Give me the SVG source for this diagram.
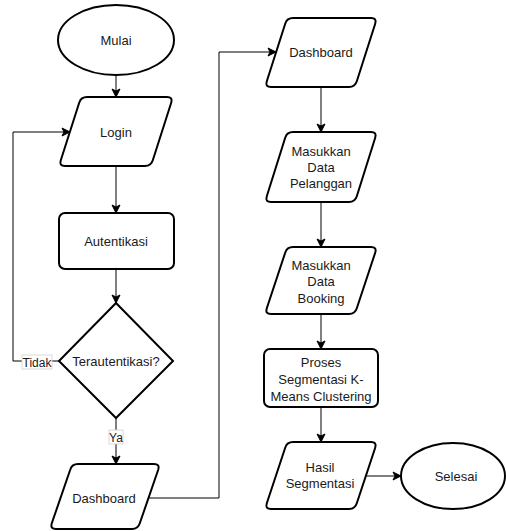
<svg xmlns="http://www.w3.org/2000/svg" width="506" height="531" viewBox="0 0 506 531">
<defs>
<marker id="arr" markerWidth="10" markerHeight="10" refX="9" refY="5" orient="auto" markerUnits="userSpaceOnUse">
<path d="M1,1 L9,5 L1,9 L3,5 Z" fill="#000" stroke="#000" stroke-width="1"/>
</marker>
<style>
.s{fill:#fff;stroke:#000;stroke-width:2}
.t{font-family:"Liberation Sans",Arial,Helvetica,sans-serif;font-size:13px;fill:#1a1a1a;text-anchor:middle}
.l{font-family:"Liberation Sans",Arial,Helvetica,sans-serif;font-size:12px;fill:#1a1a1a;text-anchor:middle}
.c{fill:none;stroke:#000;stroke-width:1}
.lb{fill:#fff;stroke:#d0d0d0;stroke-width:0.8}
</style>
</defs>
<rect width="506" height="531" fill="#fff"/>
<g id="connectors">
<line class="c" x1="116" y1="75" x2="116" y2="97" marker-end="url(#arr)"/>
<line class="c" x1="116" y1="166" x2="116" y2="213" marker-end="url(#arr)"/>
<line class="c" x1="116" y1="269" x2="116" y2="303" marker-end="url(#arr)"/>
<polyline class="c" points="59,361 13,361 13,132 70,132" marker-end="url(#arr)"/>
<line class="c" x1="116" y1="418" x2="116" y2="464" marker-end="url(#arr)"/>
<polyline class="c" points="149,498 219,498 219,52 276,52" marker-end="url(#arr)"/>
<line class="c" x1="321" y1="87" x2="321" y2="132" marker-end="url(#arr)"/>
<line class="c" x1="321" y1="202" x2="321" y2="247" marker-end="url(#arr)"/>
<line class="c" x1="321" y1="314" x2="321" y2="349" marker-end="url(#arr)"/>
<line class="c" x1="321" y1="407" x2="321" y2="442" marker-end="url(#arr)"/>
<line class="c" x1="366" y1="476" x2="401" y2="476" marker-end="url(#arr)"/>
<rect class="lb" x="22" y="355" width="30" height="14"/>
<text class="l" x="37" y="366.5">Tidak</text>
<rect class="lb" x="109" y="430" width="14" height="14"/>
<text class="l" x="116" y="441.5">Ya</text>
</g>
<g id="mulai">
<ellipse class="s" cx="116" cy="40" rx="58" ry="35"/>
<text class="t" x="116" y="44.5">Mulai</text>
</g>
<g id="login">
<path class="s" d="M87,97 L167,97 Q173,97 171.2,102.7 L152.8,160.3 Q151,166 145,166 L65,166 Q59,166 60.8,160.3 L79.2,102.7 Q81,97 87,97 Z"/>
<text class="t" x="116" y="136.5">Login</text>
</g>
<g id="autentikasi">
<rect class="s" x="59" y="213" width="115" height="56" rx="6"/>
<text class="t" x="116" y="245.5">Autentikasi</text>
</g>
<g id="terautentikasi">
<path class="s" d="M116,303 L173,361 L116,418 L59,361 Z"/>
<text class="t" x="116" y="365.5">Terautentikasi?</text>
</g>
<g id="dashboard1">
<path class="s" d="M78,464 L154,464 Q160,464 158.2,469.7 L139.8,523.3 Q138,529 132,529 L56,529 Q50,529 51.8,523.3 L70.2,469.7 Q72,464 78,464 Z"/>
<text class="t" x="104" y="502.5">Dashboard</text>
</g>
<g id="dashboard2">
<path class="s" d="M293,18 L371,18 Q377,18 375.2,23.7 L356.8,81.3 Q355,87 349,87 L271,87 Q265,87 266.8,81.3 L285.2,23.7 Q287,18 293,18 Z"/>
<text class="t" x="321" y="56.5">Dashboard</text>
</g>
<g id="pelanggan">
<path class="s" d="M293,132 L371,132 Q377,132 375.2,137.7 L356.8,196.3 Q355,202 349,202 L271,202 Q265,202 266.8,196.3 L285.2,137.7 Q287,132 293,132 Z"/>
<text class="t" x="321" y="155.5">Masukkan</text>
<text class="t" x="321" y="171.5">Data</text>
<text class="t" x="321" y="187.5">Pelanggan</text>
</g>
<g id="booking">
<path class="s" d="M293,247 L371,247 Q377,247 375.2,252.7 L356.8,308.3 Q355,314 349,314 L271,314 Q265,314 266.8,308.3 L285.2,252.7 Q287,247 293,247 Z"/>
<text class="t" x="321" y="269.5">Masukkan</text>
<text class="t" x="321" y="285.5">Data</text>
<text class="t" x="321" y="302.5">Booking</text>
</g>
<g id="proses">
<rect class="s" x="264" y="349" width="114" height="58" rx="6"/>
<text class="t" x="321" y="366.5">Proses</text>
<text class="t" x="321" y="383.5">Segmentasi K-</text>
<text class="t" x="321" y="400.5">Means Clustering</text>
</g>
<g id="hasil">
<path class="s" d="M293,442 L371,442 Q377,442 375.2,447.7 L356.8,503.3 Q355,509 349,509 L271,509 Q265,509 266.8,503.3 L285.2,447.7 Q287,442 293,442 Z"/>
<text class="t" x="320" y="471.5">Hasil</text>
<text class="t" x="320" y="487.5">Segmentasi</text>
</g>
<g id="selesai">
<ellipse class="s" cx="453" cy="476" rx="52" ry="33"/>
<text class="t" x="456" y="480.5">Selesai</text>
</g>
</svg>
